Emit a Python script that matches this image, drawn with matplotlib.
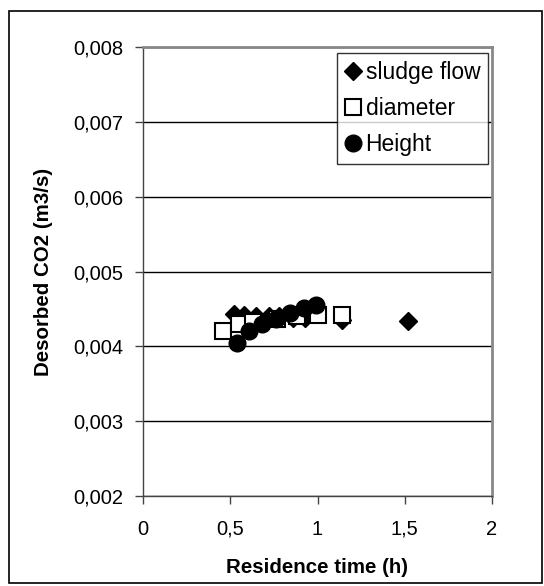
import matplotlib
matplotlib.use("Agg")
import matplotlib.pyplot as plt
from matplotlib.patches import Rectangle
from matplotlib.ticker import FuncFormatter, MultipleLocator

plt.rcParams['font.family'] = ['Liberation Sans', 'DejaVu Sans']

sludge_x = [0.52, 0.58, 0.65, 0.72, 0.78, 0.86, 0.93, 1.14, 1.52]
sludge_y = [0.00443, 0.00442, 0.00441, 0.00440, 0.00440, 0.00438, 0.00438, 0.00435, 0.00434]
diam_x = [0.46, 0.55, 0.63, 0.77, 0.88, 1.00, 1.14]
diam_y = [0.00420, 0.00430, 0.00433, 0.00437, 0.00440, 0.00442, 0.00442]
height_x = [0.54, 0.61, 0.68, 0.76, 0.84, 0.92, 0.99]
height_y = [0.00405, 0.00420, 0.00430, 0.00437, 0.00444, 0.00451, 0.00455]

W, H = 544, 586
fig = plt.figure(figsize=(W/100, H/100), dpi=100)
ax = fig.add_axes([143/W, 1-496/H, (492-143)/W, (496-47)/H])

# outer chart border
fig.patches.append(Rectangle((9/W, 3/H), (542-9)/W, (575-3)/H, transform=fig.transFigure,
                             fill=False, edgecolor='black', linewidth=1.2))

ax.plot(sludge_x, sludge_y, linestyle='none', marker='D', markersize=9, color='black',
        label='sludge flow', zorder=3)
ax.plot(diam_x, diam_y, linestyle='none', marker='s', markersize=11, markerfacecolor='white',
        markeredgecolor='black', markeredgewidth=1.5, label='diameter', zorder=4)
ax.plot(height_x, height_y, linestyle='none', marker='o', markersize=12, color='black',
        label='Height', zorder=5)

ax.set_xlim(0, 2)
ax.set_ylim(0.002, 0.008)
ax.xaxis.set_major_locator(MultipleLocator(0.5))
ax.yaxis.set_major_locator(MultipleLocator(0.001))

def fx(v, p):
    return ('%g' % v).replace('.', ',')
ax.xaxis.set_major_formatter(FuncFormatter(fx))
ax.yaxis.set_major_formatter(FuncFormatter(lambda v, p: ('%.3f' % v).replace('.', ',')))

ax.grid(axis='y', color='black', linewidth=1.0)
ax.set_axisbelow(True)
for s in ['left', 'bottom']:
    ax.spines[s].set_color('#444444')
    ax.spines[s].set_linewidth(1.0)
for s in ['top', 'right']:
    ax.spines[s].set_color('#888888')
    ax.spines[s].set_linewidth(2.0)

ax.tick_params(axis='both', labelsize=14.5, direction='out', length=6, color='#444444', width=1)
ax.tick_params(axis='x', pad=11)
ax.tick_params(axis='y', pad=8)

ax.set_xlabel('Residence time (h)', fontsize=14.8, fontweight='bold', labelpad=14)
ax.set_ylabel('Desorbed CO2 (m3/s)', fontsize=14.8, fontweight='bold', labelpad=15)

leg = ax.legend(loc='upper right', bbox_to_anchor=(0.989, 0.987), fontsize=16.5, frameon=True,
                fancybox=False, edgecolor='black', handletextpad=0.15, handlelength=0.75,
                borderpad=0.35, labelspacing=0.57, borderaxespad=0.0, markerscale=1.0)
leg.get_frame().set_linewidth(1.0)

fig.savefig('out.png', dpi=100)
